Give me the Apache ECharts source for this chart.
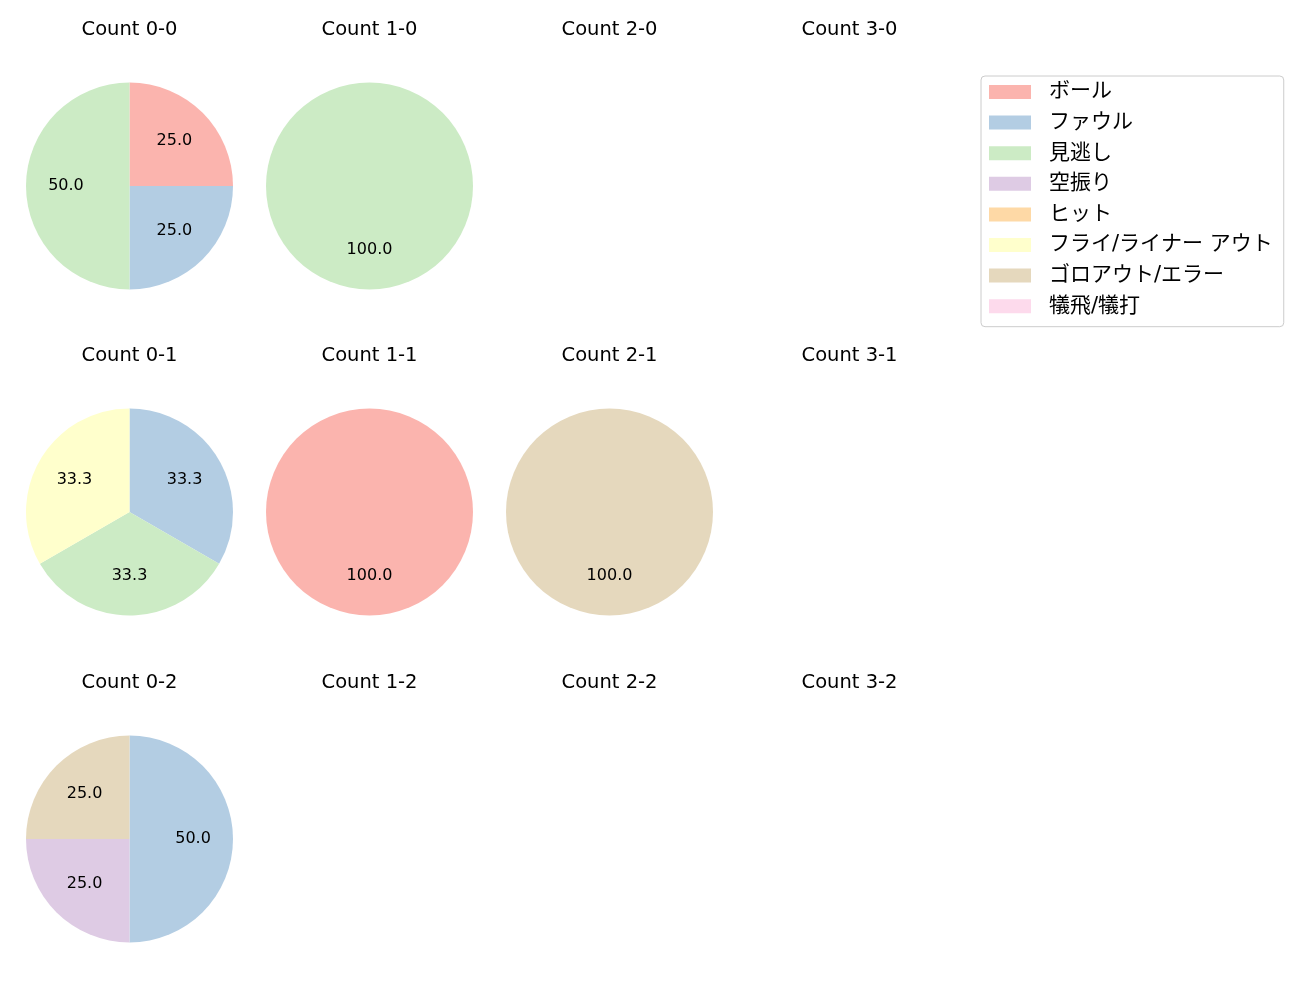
<!DOCTYPE html>
<html>
<head>
<meta charset="utf-8">
<script src="https://cdn.jsdelivr.net/npm/echarts@6/dist/echarts.min.js"></script>
<style>html,body{margin:0;padding:0;background:#fff}#c{width:1300px;height:1000px}</style>
</head>
<body>
<div id="c"></div>
<script>
const categories = ['ボール','ファウル','見逃し','空振り','ヒット','フライ/ライナー アウト','ゴロアウト/エラー','犠飛/犠打'];
const colors = ['#fbb4ae','#b3cde3','#ccebc5','#decbe4','#fed9a6','#ffffcc','#e5d8bd','#fddaec'];
const countTitles = [
  ['Count 0-0','Count 1-0','Count 2-0','Count 3-0'],
  ['Count 0-1','Count 1-1','Count 2-1','Count 3-1'],
  ['Count 0-2','Count 1-2','Count 2-2','Count 3-2']
];
// values per category (same order as categories); null = no pitches
const count00 = [1,1,2,0,0,0,0,0];
const count10 = [0,0,1,0,0,0,0,0];
const count01 = [0,1,1,0,0,1,0,0];
const count11 = [1,0,0,0,0,0,0,0];
const count21 = [0,0,0,0,0,0,1,0];
const count02 = [0,2,0,1,0,0,1,0];
const countValues = [
  [count00, count10, null, null],
  [count01, count11, count21, null],
  [count02, null, null, null]
];

const colX = [129.5, 369.5, 609.5, 849.5];
const rowY = [186, 512, 839];
const titleTop = [19.5, 346, 672.5];
const R = 103.5;
const LATIN = '"DejaVu Sans", "Noto Sans CJK JP", sans-serif';

const titles = [];
const pieSeries = [];
const labelSeries = [];
for (let r = 0; r < 3; r++) {
  for (let c = 0; c < 4; c++) {
    titles.push({
      text: countTitles[r][c], left: colX[c], top: titleTop[r], textAlign: 'center', padding: 0,
      textStyle: {fontFamily: LATIN, fontSize: 19.5, lineHeight: 20, fontWeight: 'normal', color: '#000'}
    });
    const vals = countValues[r][c];
    if (!vals) continue;
    const data = categories.map((n, i) => ({name: n, value: vals[i], itemStyle: {color: colors[i]}}));
    pieSeries.push({
      type: 'pie', center: [colX[c], rowY[r]], radius: [0, R], startAngle: 90, clockwise: true,
      label: {show: false}, labelLine: {show: false}, silent: true, animation: false,
      showEmptyCircle: false, data: data
    });
    labelSeries.push({
      type: 'pie', center: [colX[c], rowY[r]], radius: [R * 0.17, R], startAngle: 90, clockwise: true,
      itemStyle: {color: 'rgba(0,0,0,0)'}, silent: true, animation: false, showEmptyCircle: false,
      labelLine: {show: false},
      label: {show: true, position: 'inside', fontFamily: LATIN, fontSize: 16, color: '#000',
        padding: [0, 0, 3, 0],
        formatter: p => p.value > 0 ? p.percent.toFixed(1) : ''},
      data: categories.map((n, i) => ({name: n, value: vals[i]}))
    });
  }
}

const chart = echarts.init(document.getElementById('c'), null, {renderer: 'canvas'});
chart.setOption({
  backgroundColor: '#fff',
  animation: false,
  title: titles,
  legend: {
    orient: 'vertical', left: 981, top: 76,
    padding: [5.5, 11, 10, 8],
    borderColor: '#cccccc', borderWidth: 1, borderRadius: 4,
    itemWidth: 42, itemHeight: 14, itemGap: 9.6,
    icon: 'rect', selectedMode: false,
    textStyle: {fontFamily: LATIN, fontSize: 21, color: '#000', padding: [0, 0, 0, 13]},
    data: categories.map((n, i) => ({name: n, itemStyle: {color: colors[i]}}))
  },
  series: pieSeries.concat(labelSeries)
});
</script>
</body>
</html>
